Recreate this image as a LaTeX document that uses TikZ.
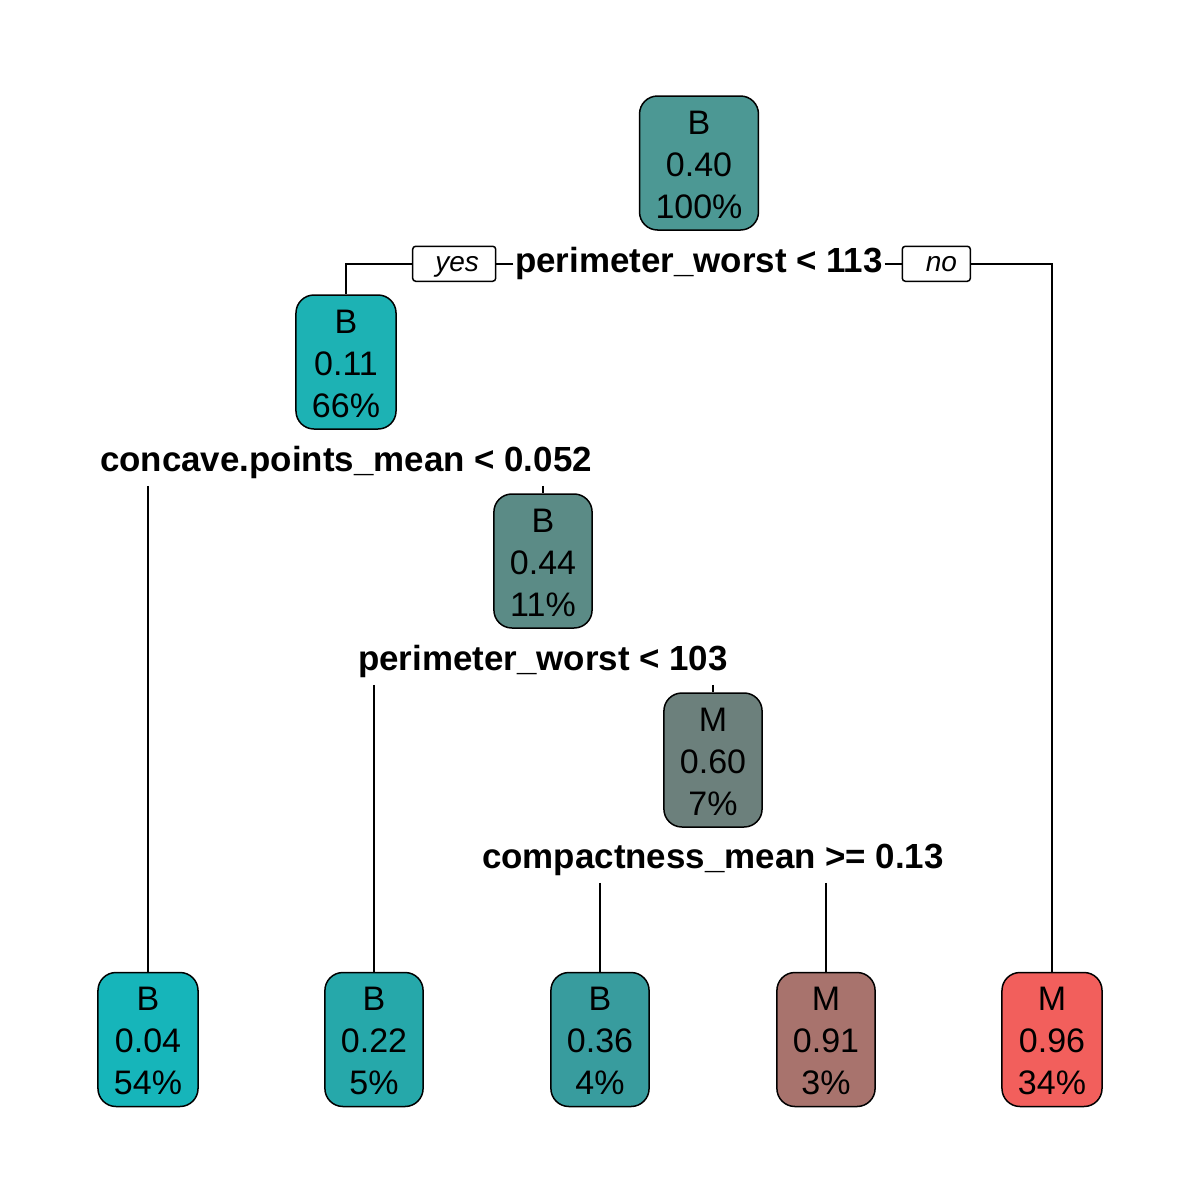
\documentclass[tikz,border=0pt]{standalone}
\usepackage{fontspec}
\setmainfont{Liberation Sans}
\usepackage{tikz}
\usetikzlibrary{positioning}

\definecolor{c040}{HTML}{4C9894}
\definecolor{c011}{HTML}{1DB2B4}
\definecolor{c044}{HTML}{5B8B86}
\definecolor{c060}{HTML}{6C807C}
\definecolor{c004}{HTML}{16B5BA}
\definecolor{c022}{HTML}{26A8AA}
\definecolor{c036}{HTML}{389C9E}
\definecolor{c091}{HTML}{A8736D}
\definecolor{c096}{HTML}{F25F5C}
\newcommand{\toprule}{\rule{0pt}{26.5pt}}

\begin{document}
\begin{tikzpicture}[x=1pt, y=-1pt, line width=1.5pt,
		box/.style={draw, rounded corners=18pt, align=center, inner xsep=16pt, minimum height=134pt,
			font=\fontsize{34}{42}\selectfont},
		split/.style={inner xsep=1pt, inner ysep=6pt, font=\fontsize{34.9}{42}\selectfont\bfseries},
		tag/.style={draw, rounded corners=3pt, inner sep=0pt, minimum height=35pt, text height=20.5pt, text depth=6pt,
			font=\fontsize{28}{30}\selectfont\itshape}]
	\useasboundingbox (0,0) rectangle (1200,1200);
	% inner boxes
	\node[box, fill=c040] (root) at (699,163) {\toprule B\\0.40\\100\%};
	\node[box, fill=c011] (lft) at (346,362) {\toprule B\\0.11\\66\%};
	\node[box, fill=c044] (mid) at (543,561) {\toprule B\\0.44\\11\%};
	\node[box, fill=c060] (inr) at (713,760) {\toprule M\\0.60\\7\%};
	% leaves
	\node[box, fill=c004] (l1) at (148,1039.5) {\toprule B\\0.04\\54\%};
	\node[box, fill=c022] (l2) at (374,1039.5) {\toprule B\\0.22\\5\%};
	\node[box, fill=c036] (l3) at (600,1039.5) {\toprule B\\0.36\\4\%};
	\node[box, fill=c091] (l4) at (826,1039.5) {\toprule M\\0.91\\3\%};
	\node[box, fill=c096] (l5) at (1052,1039.5) {\toprule M\\0.96\\34\%};
	% split labels
	\node[split, below=10pt of root] (s1) {perimeter\_worst < 113};
	\node[split, below=10pt of lft] (s2) {concave.points\_mean < 0.052};
	\node[split, below=10pt of mid] (s3) {perimeter\_worst < 103};
	\node[split, below=10pt of inr] (s4) {compactness\_mean >= 0.13};
	\node[tag, minimum width=83pt, left=17pt of s1] (yes) {\hspace{6pt}yes\hspace{14pt}};
	\node[tag, minimum width=68pt, right=17pt of s1] (no) {\hspace{10pt}no\hspace{16pt}};
	% connectors
	\draw (s1.west) -- (yes.east);
	\draw (yes.west) -| (lft.north);
	\draw (s1.east) -- (no.west);
	\draw (no.east) -| (l5.north);
	\draw (s2.south -| l1.north) -- (l1.north);
	\draw (s2.south -| mid.north) -- (mid.north);
	\draw (s3.south -| l2.north) -- (l2.north);
	\draw (s3.south -| inr.north) -- (inr.north);
	\draw (s4.south -| l3.north) -- (l3.north);
	\draw (s4.south -| l4.north) -- (l4.north);
\end{tikzpicture}
\end{document}
